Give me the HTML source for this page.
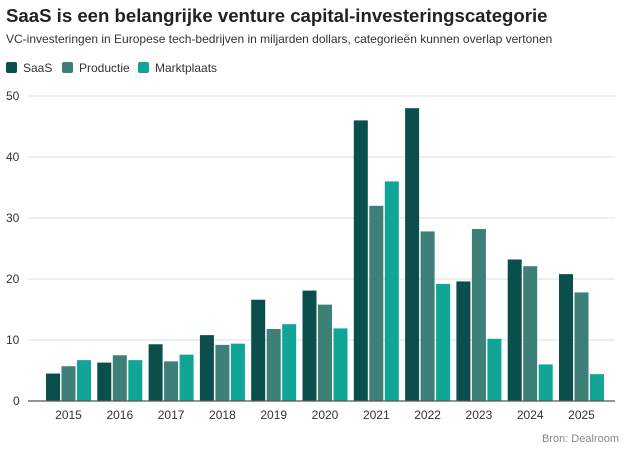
<!DOCTYPE html>
<html><head><meta charset="utf-8"><style>
body{margin:0;background:#fff;width:625px;height:449px;overflow:hidden;font-family:"Liberation Sans",sans-serif}
</style></head><body>
<svg width="625" height="449" xmlns="http://www.w3.org/2000/svg" font-family="Liberation Sans, sans-serif">
<text x="6" y="22" font-size="18.6" font-weight="bold" fill="#222">SaaS is een belangrijke venture capital-investeringscategorie</text>
<text x="6" y="43" font-size="12" fill="#333">VC-investeringen in Europese tech-bedrijven in miljarden dollars, categorieën kunnen overlap vertonen</text>
<rect x="6" y="62" width="11" height="11" rx="2" fill="#0b4f4c"/><text x="23" y="72" font-size="12" fill="#333">SaaS</text>
<rect x="62" y="62" width="11" height="11" rx="2" fill="#3d8078"/><text x="79" y="72" font-size="12" fill="#333">Productie</text>
<rect x="138" y="62" width="11" height="11" rx="2" fill="#10a595"/><text x="155" y="72" font-size="12" fill="#333">Marktplaats</text>
<g stroke="#ddd" stroke-width="1">
<line x1="28" x2="615" y1="96" y2="96"/><line x1="28" x2="615" y1="157" y2="157"/><line x1="28" x2="615" y1="218" y2="218"/><line x1="28" x2="615" y1="279" y2="279"/><line x1="28" x2="615" y1="340" y2="340"/>
</g>
<g font-size="12" fill="#333">
<text x="6" y="100">50</text><text x="6" y="161">40</text><text x="6" y="222">30</text><text x="6" y="283">20</text><text x="6" y="344">10</text><text x="13" y="405">0</text>
</g>
<g id="bars"></g>
<line x1="28" x2="615" y1="401" y2="401" stroke="#555" stroke-width="1.3"/>
<g id="labels" font-size="12" fill="#333" text-anchor="middle"></g>
<text x="619" y="442" font-size="11" fill="#888" text-anchor="end">Bron: Dealroom</text>
<script>
var d=[[4.5,5.7,6.7],[6.3,7.5,6.7],[9.3,6.5,7.6],[10.8,9.2,9.4],[16.6,11.8,12.6],[18.1,15.8,11.9],[46,32,36],[48,27.8,19.2],[19.6,28.2,10.2],[23.2,22.1,6],[20.8,17.8,4.4]];
var c=["#0b4f4c","#3d8078","#10a595"],ns="http://www.w3.org/2000/svg",b=document.getElementById("bars"),l=document.getElementById("labels");
d.forEach(function(g,i){var x0=46+i*51.3;g.forEach(function(v,j){var r=document.createElementNS(ns,"rect");var h=v*6.1;r.setAttribute("x",x0+j*15.5);r.setAttribute("y",401-h);r.setAttribute("width",14);r.setAttribute("height",h);r.setAttribute("fill",c[j]);b.appendChild(r);});
var t=document.createElementNS(ns,"text");t.setAttribute("x",x0+22.5);t.setAttribute("y",419);t.textContent=2015+i;l.appendChild(t);});
</script>
</svg>
</body></html>
